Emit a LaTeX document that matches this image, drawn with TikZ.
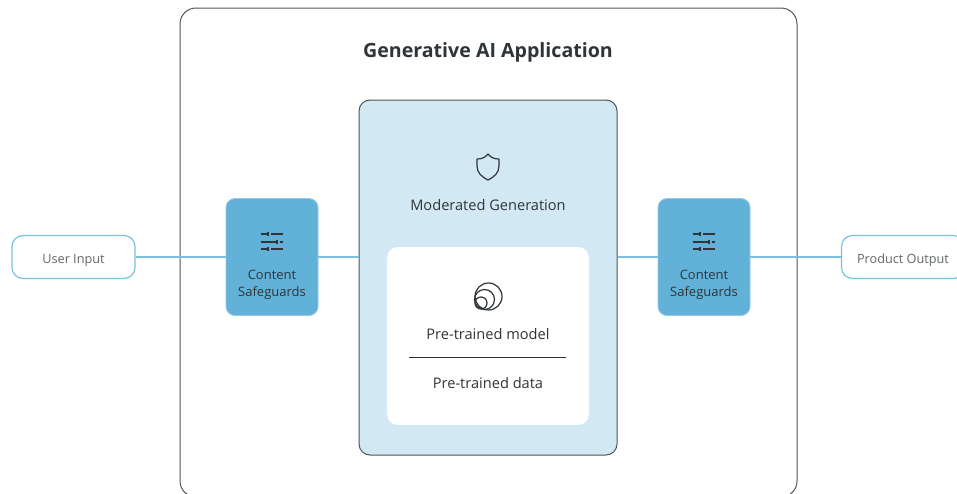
\documentclass[tikz,border=0pt]{standalone}
\usepackage{fontspec}
\setmainfont{Open Sans}
\definecolor{guardblue}{HTML}{62B1D8}
\definecolor{modblue}{HTML}{D2E9F4}
\definecolor{wireblue}{HTML}{7CC0DF}
\definecolor{darktext}{HTML}{2F3438}
\definecolor{edgegrey}{HTML}{4F5559}
\tikzset{
  iobox/.style={draw=wireblue, line width=1.2pt, fill=white, rounded corners=11pt, minimum width=123pt, minimum height=43pt, inner sep=0pt, text height=13pt, text depth=0pt, text=darktext!75, font=\fontsize{12.7}{15}\selectfont},
  guardbox/.style={draw=guardblue!70, line width=0.8pt, fill=guardblue, rounded corners=9pt, minimum width=92pt, minimum height=117pt, inner sep=0pt},
  caption/.style={text=darktext, inner sep=0pt, align=center, font=\fontsize{14.6}{17}\selectfont},
  guardtext/.style={caption, font=\fontsize{13}{17}\selectfont},
  wire/.style={draw=wireblue, line width=1.1pt},
  iconline/.style={draw=darktext, line width=1.2pt},
  sliders/.pic={
    \draw[iconline] (-11,-8) -- (-5,-8) (-1,-8) -- (11,-8) (-11,0) -- (4,0) (8,0) -- (11,0) (-11,7) -- (-5,7) (-1,7) -- (11,7);
    \draw[iconline] (-4,-10) -- (-4,-6) (5,-2) -- (5,2) (-4,5) -- (-4,9);
  }
}
\begin{document}
\begin{tikzpicture}[x=1pt,y=-1pt]
  \useasboundingbox (0,0) rectangle (957,493);
  \clip (0,0) rectangle (957,493);

  % outer application frame
  \draw[edgegrey, line width=1pt, rounded corners=16pt] (180,8) rectangle (797,497);
  \node[font=\fontsize{19.6}{22}\selectfont\bfseries, text=darktext, inner sep=0pt] (title) at (488,52.5) {Generative AI Application};

  % boxes
  \node[iobox] (userinput) at (73.5,257) {User Input};
  \node[iobox] (productoutput) at (903,257) {Product Output};
  \node[guardbox] (guardleft) at (272,257) {};
  \node[guardbox] (guardright) at (704,257) {};
  \node[draw=edgegrey, line width=1pt, fill=modblue, rounded corners=11pt, minimum width=258pt, minimum height=355pt, inner sep=0pt] (moderated) at (488,277.5) {};
  \node[fill=white, rounded corners=11pt, minimum width=202pt, minimum height=178pt, inner sep=0pt] (inner) at (488,336) {};

  % connectors
  \draw[wire] (userinput) -- (guardleft);
  \draw[wire] (guardleft.east) -- (guardleft.east -| moderated.west);
  \draw[wire] (guardright.west -| moderated.east) -- (guardright.west);
  \draw[wire] (guardright) -- (productoutput);

  % guard labels
  \pic at (272,242) {sliders};
  \pic at (704,242) {sliders};
  \node[guardtext] (guardlefttext) at (272,285) {Content\\Safeguards};
  \node[guardtext] (guardrighttext) at (704,285) {Content\\Safeguards};

  % moderated generation
  \draw[iconline, line join=round] (488,154) .. controls (491,158) and (495,159) .. (499,159) -- (499,166) .. controls (499,173) and (494,177) .. (488,180) .. controls (482,177) and (477,173) .. (477,166) -- (477,159) .. controls (481,159) and (485,158) .. (488,154) -- cycle;
  \node[caption] (modtext) at (488,205.5) {Moderated Generation};

  % model stack
  \draw[iconline] (481,303) circle (6pt);
  \draw[iconline] (484.5,299.5) circle (10pt);
  \draw[iconline] (488.5,296.5) circle (13.5pt);
  \node[caption] (modeltext) at (488,334) {Pre-trained model};
  \coordinate (ruleleft) at (409,357);
  \coordinate (ruleright) at (566,357);
  \draw[darktext, line width=0.9pt] (ruleleft) -- (ruleright);
  \node[caption] (datatext) at (488,383) {Pre-trained data};
\end{tikzpicture}
\end{document}
